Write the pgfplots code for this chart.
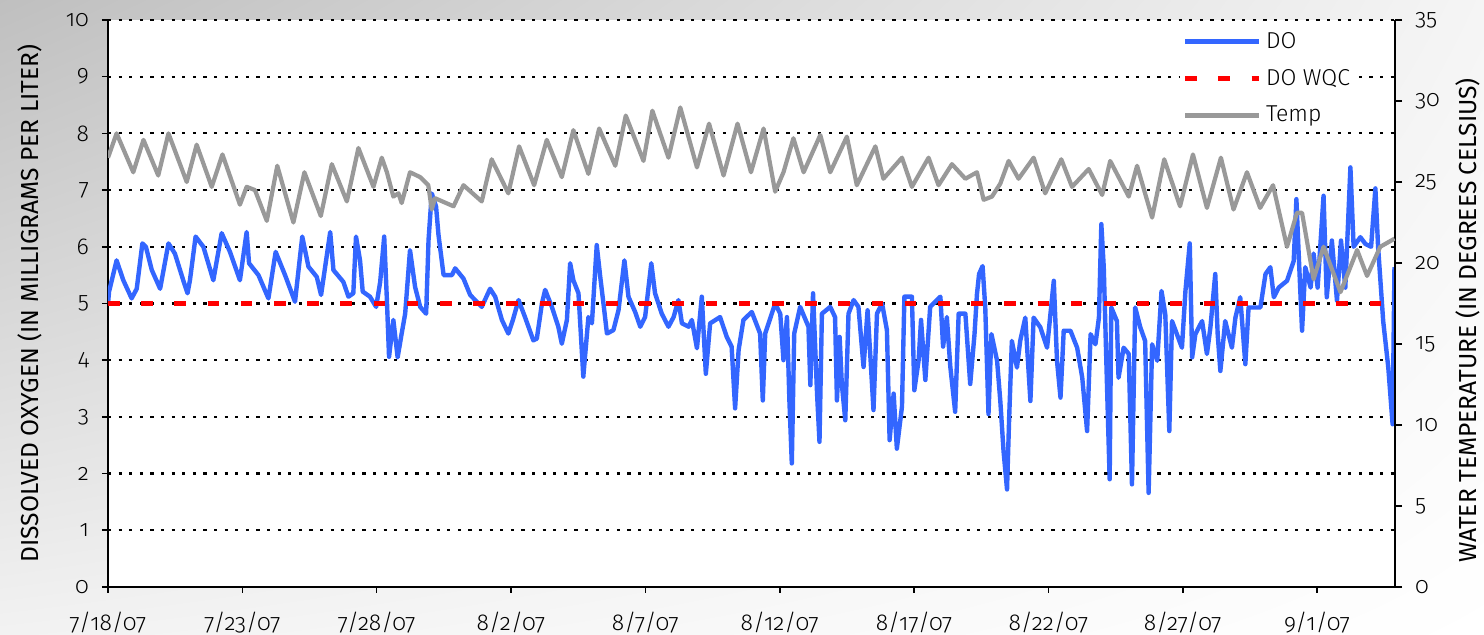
\documentclass[border=0pt]{standalone}
\usepackage{fontspec}
\setmainfont{Fira Sans}[UprightFont={* Light}, Numbers=OldStyle]
\newfontfamily\labelfont{Fira Sans}
\usepackage{pgfplots}
\pgfplotsset{compat=1.18}
\usetikzlibrary{shadings}
\definecolor{doblue}{RGB}{51,102,255}
\definecolor{tempgray}{RGB}{153,153,153}
\begin{document}
\begin{tikzpicture}
\shade[upper left=black!25, upper right=black!4, lower left=black!5, lower right=white] (0,0) rectangle (742pt,317.5pt);
\begin{axis}[
 at={(54pt,24pt)}, anchor=south west,
 width=643.5pt, height=283.5pt, scale only axis,
 xmin=0, xmax=47.9, ymin=0, ymax=10,
 axis x line*=bottom, axis y line*=left,
 axis line style={black, line width=0.8pt, -},
 axis background/.style={fill=white},
 tick align=outside, major tick length=3pt,
 tick style={black, line width=0.8pt},
 xtick={0,5,...,45},
 xticklabels={7/18/07,7/23/07,7/28/07,8/2/07,8/7/07,8/12/07,8/17/07,8/22/07,8/27/07,9/1/07},
 ytick={0,...,10},
 yticklabel={\pgfmathprintnumber{\tick}},
 ymajorgrids,
 major grid style={black, line width=1.1pt, dash pattern=on 1.6pt off 3.7pt},
 ticklabel style={font=\fontsize{11.5}{13}\selectfont},
 /pgf/number format/assume math mode=true,
 xticklabel style={yshift=-6pt},
 yticklabel style={xshift=-3pt},
 ylabel={DISSOLVED OXYGEN (IN MILLIGRAMS PER LITER)},
 ylabel style={at={(axis description cs:-0.0606,0.5)}, anchor=center, font=\labelfont\fontsize{12.3}{14}\selectfont},
]
\addplot[doblue, line width=2.2pt, line join=round] coordinates {
(0.0,5.0) (0.04,5.21) (0.32,5.76) (0.57,5.41) (0.88,5.09) (1.07,5.26) (1.28,6.06) (1.41,6.0) (1.63,5.59) (1.94,5.26)
(2.25,6.06) (2.49,5.88) (2.80,5.41) (2.96,5.18) (3.05,5.41) (3.26,6.18) (3.55,6.0) (3.92,5.41) (4.23,6.24) (4.54,5.91)
(4.91,5.41) (5.16,6.26) (5.25,5.71) (5.60,5.5) (5.97,5.09) (6.24,5.91) (6.59,5.5) (6.96,5.03) (7.23,6.18) (7.46,5.65)
(7.77,5.47) (7.93,5.15) (8.27,6.26) (8.39,5.59) (8.76,5.38) (8.95,5.12) (9.13,5.18) (9.23,6.18) (9.38,5.76) (9.48,5.21)
(9.75,5.12) (9.98,4.94) (10.13,5.38) (10.28,6.18) (10.38,5.06) (10.46,4.06) (10.62,4.71) (10.78,4.05) (10.93,4.47) (11.06,4.82)
(11.24,5.94) (11.43,5.29) (11.62,4.94) (11.84,4.82) (11.93,6.12) (12.05,6.94) (12.21,6.71) (12.30,6.21) (12.49,5.5) (12.80,5.5)
(12.92,5.62) (13.23,5.44) (13.48,5.15) (13.91,4.94) (14.22,5.26) (14.41,5.12) (14.66,4.71) (14.90,4.47) (15.07,4.71) (15.28,5.06)
(15.52,4.76) (15.83,4.35) (15.96,4.38) (16.15,5.0) (16.27,5.24) (16.52,4.94) (16.76,4.59) (16.89,4.29) (17.08,4.71) (17.20,5.71)
(17.32,5.41) (17.51,5.18) (17.69,3.71) (17.88,4.76) (18.01,4.65) (18.19,6.03) (18.32,5.47) (18.44,5.0) (18.57,4.47) (18.81,4.53)
(19.00,4.88) (19.22,5.76) (19.37,5.12) (19.62,4.85) (19.81,4.59) (19.99,4.76) (20.22,5.71) (20.36,5.18) (20.61,4.82) (20.86,4.59)
(21.05,4.76) (21.23,5.06) (21.36,4.65) (21.61,4.59) (21.73,4.71) (21.92,4.21) (22.10,5.12) (22.25,3.76) (22.41,4.65) (22.78,4.76)
(23.03,4.41) (23.21,4.24) (23.34,3.15) (23.47,4.18) (23.65,4.71) (23.96,4.85) (24.27,4.47) (24.37,3.29) (24.46,4.47) (24.83,5.0)
(25.02,4.82) (25.14,4.0) (25.27,4.76) (25.36,3.29) (25.45,2.18) (25.54,4.47) (25.76,4.94) (26.07,4.59) (26.14,3.56) (26.24,5.18)
(26.39,3.41) (26.48,2.56) (26.57,4.82) (26.88,4.94) (27.06,4.76) (27.13,3.29) (27.23,4.41) (27.31,3.59) (27.44,2.94) (27.56,4.82)
(27.75,5.06) (27.93,4.94) (28.12,3.88) (28.27,4.88) (28.39,3.94) (28.49,3.12) (28.62,4.82) (28.81,5.0) (28.99,4.53) (29.09,2.59)
(29.24,3.41) (29.36,2.44) (29.55,3.18) (29.64,5.12) (29.92,5.12) (30.01,3.47) (30.17,4.0) (30.26,4.71) (30.42,3.65) (30.60,4.94)
(30.98,5.12) (31.08,4.24) (31.22,4.76) (31.35,3.88) (31.53,3.09) (31.66,4.82) (31.91,4.82) (32.09,3.58) (32.25,4.46) (32.34,5.16)
(32.42,5.52) (32.55,5.66) (32.65,4.93) (32.77,3.05) (32.88,4.46) (33.09,3.99) (33.21,3.28) (33.33,2.40) (33.46,1.72) (33.54,2.99)
(33.64,4.34) (33.83,3.87) (33.95,4.34) (34.14,4.75) (34.33,3.28) (34.45,4.75) (34.70,4.58) (34.95,4.22) (35.20,5.40) (35.32,3.99)
(35.45,3.34) (35.57,4.52) (35.82,4.52) (36.07,4.22) (36.26,3.69) (36.44,2.75) (36.57,4.46) (36.75,4.28) (36.88,4.75) (36.97,6.40)
(37.06,5.64) (37.19,3.40) (37.28,1.90) (37.34,4.93) (37.55,4.69) (37.61,3.69) (37.80,4.22) (37.99,4.11) (38.11,1.81) (38.23,4.93)
(38.42,4.58) (38.60,4.34) (38.73,1.66) (38.86,4.28) (39.05,3.99) (39.21,5.22) (39.35,4.81) (39.50,2.75) (39.60,4.69) (39.97,4.22)
(40.10,5.22) (40.26,6.06) (40.35,4.05) (40.47,4.46) (40.72,4.69) (40.90,4.11) (41.03,4.58) (41.21,5.52) (41.30,4.46) (41.40,3.81)
(41.58,4.69) (41.83,4.22) (41.96,4.75) (42.14,5.11) (42.33,3.93) (42.45,4.93) (42.89,4.93) (43.08,5.52) (43.26,5.64) (43.39,5.11)
(43.57,5.28) (43.88,5.40) (44.13,5.75) (44.23,6.84) (44.31,5.93) (44.44,4.52) (44.56,5.64) (44.76,5.28) (44.87,5.88) (45.02,5.28)
(45.24,6.90) (45.36,5.11) (45.55,6.11) (45.74,5.05) (45.89,6.11) (46.05,5.28) (46.24,7.40) (46.36,6.0) (46.61,6.17) (46.80,6.05)
(47.01,6.0) (47.17,7.03) (47.27,6.0) (47.46,4.69) (47.65,3.87) (47.81,2.87) (47.88,5.64)
};
\addplot[red, line width=2.8pt, dash pattern=on 5.8pt off 10.8pt] coordinates {(0,5) (47.9,5)};
\end{axis}
\begin{axis}[
 at={(54pt,24pt)}, anchor=south west,
 width=643.5pt, height=283.5pt, scale only axis,
 xmin=0, xmax=47.9, ymin=0, ymax=35,
 axis x line=none, axis y line*=right,
 axis line style={black, line width=0.8pt, -},
 tick align=outside, major tick length=3.5pt,
 tick style={black, line width=0.8pt},
 ytick={0,5,...,35},
 yticklabel={\pgfmathprintnumber{\tick}},
 ticklabel style={font=\fontsize{11.5}{13}\selectfont},
 /pgf/number format/assume math mode=true,
 yticklabel style={xshift=3pt},
 ylabel={WATER TEMPERATURE (IN DEGREES CELSIUS)},
 ylabel style={at={(axis description cs:1.0567,0.47)}, anchor=center, font=\labelfont\fontsize{12.3}{14}\selectfont},
 legend style={at={(axis description cs:0.970,0.99)}, anchor=north east, draw=none, fill=white, font=\fontsize{11.5}{13}\selectfont, row sep=5pt, inner sep=1pt},
 legend cell align=left,
 legend image code/.code={\draw[#1] (0pt,0pt) -- (37pt,0pt);},
]
\addlegendimage{doblue, line width=2.2pt}
\addlegendentry{DO}
\addlegendimage{red, line width=2.8pt, dash pattern=on 5.8pt off 10.8pt}
\addlegendentry{DO WQC}
\addplot[tempgray, line width=2.1pt, line join=round] coordinates {
(0.0,26.5) (0.32,28.0) (0.94,25.6) (1.32,27.6) (1.87,25.4) (2.25,28.0) (2.93,25.0) (3.30,27.3) (3.86,24.7) (4.26,26.7)
(4.91,23.6) (5.16,24.7) (5.47,24.5) (5.91,22.6) (6.30,26.0) (6.90,22.5) (7.31,25.6) (7.92,22.9) (8.33,26.1) (8.89,23.8)
(9.32,27.1) (9.88,24.7) (10.19,26.5) (10.38,25.6) (10.62,24.1) (10.81,24.3) (10.93,23.7) (11.24,25.6) (11.62,25.3) (11.92,24.8)
(12.05,23.3) (12.17,24.0) (12.86,23.5) (13.23,24.8) (13.91,23.8) (14.28,26.4) (14.90,24.3) (15.30,27.2) (15.86,24.8) (16.33,27.6)
(16.89,25.3) (17.32,28.2) (17.88,25.5) (18.28,28.3) (18.88,26.0) (19.27,29.1) (19.93,26.3) (20.26,29.4) (20.86,26.5) (21.30,29.6)
(21.92,25.9) (22.37,28.6) (22.91,25.4) (23.43,28.6) (23.93,25.6) (24.40,28.3) (24.83,24.4) (25.14,25.6) (25.51,27.7) (25.89,25.6)
(26.51,27.9) (26.88,25.6) (27.50,27.8) (27.87,24.8) (28.56,27.2) (28.86,25.2) (29.55,26.5) (29.92,24.7) (30.54,26.5) (30.91,24.8)
(31.41,26.1) (31.91,25.2) (32.34,25.6) (32.59,23.9) (32.90,24.1) (33.21,24.9) (33.52,26.3) (33.89,25.2) (34.45,26.5) (34.88,24.3)
(35.48,26.4) (35.88,24.7) (36.50,25.8) (37.00,24.2) (37.30,26.3) (37.99,24.1) (38.30,26.0) (38.86,22.8) (39.31,26.4) (39.90,23.5)
(40.38,26.7) (40.90,23.4) (41.42,26.5) (41.89,23.3) (42.39,25.6) (42.88,23.4) (43.36,24.8) (43.88,21.0) (44.25,23.1) (44.44,23.1)
(44.87,19.0) (45.24,21.0) (45.87,18.2) (46.49,20.8) (46.86,19.2) (47.35,21.0) (47.88,21.5)
};
\addlegendentry{Temp}
\end{axis}
\pgfresetboundingbox
\path[use as bounding box] (0,0) rectangle (742pt,317.5pt);
\end{tikzpicture}
\end{document}
